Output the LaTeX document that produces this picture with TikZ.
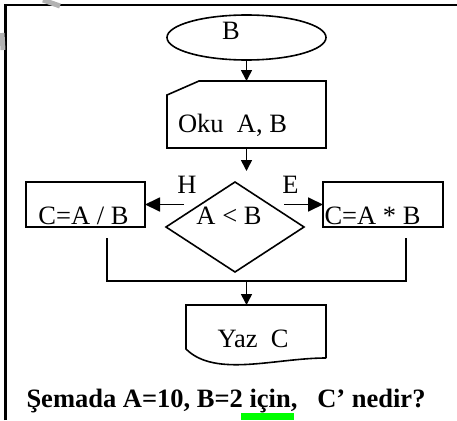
\documentclass[tikz,border=0pt]{standalone}
\usepackage{fontspec}
\setmainfont{Liberation Serif}
\usetikzlibrary{arrows.meta,shapes.geometric}
\begin{document}
\begin{tikzpicture}[x=1pt,y=-1pt,
  shapeline/.style={line width=1.6pt},
  holder/.style={draw=none,rectangle,inner sep=0pt,outer sep=0pt},
  flowarrow/.style={line width=1.6pt,-{Triangle[length=11pt,width=11pt]}},
  sidearrow/.style={line width=1.8pt,-{Triangle[length=15pt,width=14pt]}},
  lbl/.style={anchor=base,inner sep=0pt,font=\fontsize{26.5}{30}\selectfont},
  question/.style={anchor=base,inner sep=0pt,font=\fontsize{26.5}{30}\selectfont\bfseries}]
\useasboundingbox (0,0) rectangle (457,420);
% frame
\draw[line width=2.4pt] (5.5,420) -- (5.5,5) -- (457,5);
% watermark fragments
\draw[gray!60,line width=5pt] (43,0) -- (60,6);
\draw[gray!60,line width=5pt] (2,33) -- (3,50);
% start
\node[holder,ellipse,draw,shapeline,minimum width=159pt,minimum height=45pt] (start) at (246.5,37.5) {};
\node[lbl] (startlbl) at (231,40) {B};
% read
\node[holder,minimum width=159pt,minimum height=67pt] (read) at (246.5,114.5) {};
\draw[shapeline] (read.south west) -- (read.south east) -- (read.north east)
  -- ([xshift=32pt]read.north west) -- ([yshift=-14pt]read.north west) -- cycle;
\node[lbl] (readlbl) at (232.5,132) {Oku\ \ A, B};
% decision
\node[holder,minimum width=138pt,minimum height=90pt] (dec) at (235,227) {};
\draw[shapeline] (dec.north) -- (dec.east) -- (dec.south) -- (dec.west) -- cycle;
\node[lbl] (declbl) at (229,224) {A < B};
\coordinate (decin) at (246.5,171);
\coordinate (hstart) at (184,204.5);
\coordinate (estart) at (284,204.5);
% side boxes
\node[holder,draw,shapeline,minimum width=119pt,minimum height=45pt] (lbox) at (85.5,204.5) {};
\node[lbl] (lboxlbl) at (83.5,224) {C=A / B};
\node[holder,draw,shapeline,minimum width=120pt,minimum height=45pt] (rbox) at (383,204.5) {};
\node[lbl] (rboxlbl) at (372.5,224) {C=A * B};
\node[lbl] (hlbl) at (187,193) {H};
\node[lbl] (elbl) at (290.5,193) {E};
% merge lines
\coordinate (ldown) at (107,238);
\coordinate (rdown) at (406,238);
\coordinate (lcorner) at (107,281);
\coordinate (rcorner) at (406,281);
\coordinate (merge) at (246.5,281);
% output document
\node[holder,minimum width=140pt,minimum height=53pt] (out) at (256,331.5) {};
\draw[shapeline] (out.south east) -- (out.north east) -- (out.north west) -- ([yshift=9pt]out.south west)
  .. controls (215,378) and (275,358) .. (out.south east);
\node[lbl] (outlbl) at (253,347) {Yaz\ \ C};
% connectors
\draw[flowarrow] (start.south) -- (read.north);
\draw[flowarrow] (read.south) -- (decin);
\draw[sidearrow] (hstart) -- (lbox.east);
\draw[sidearrow] (estart) -- (rbox.west);
\draw[shapeline] (ldown) -- (lcorner) -- (rcorner) -- (rdown);
\draw[flowarrow] (merge) -- (merge |- out.north);
% question
\node[question] (q) at (226,407) {Şemada A=10, B=2 için,\ \ \ C’ nedir?};
\fill[green] (241,413) rectangle (294,420);
\end{tikzpicture}
\end{document}
